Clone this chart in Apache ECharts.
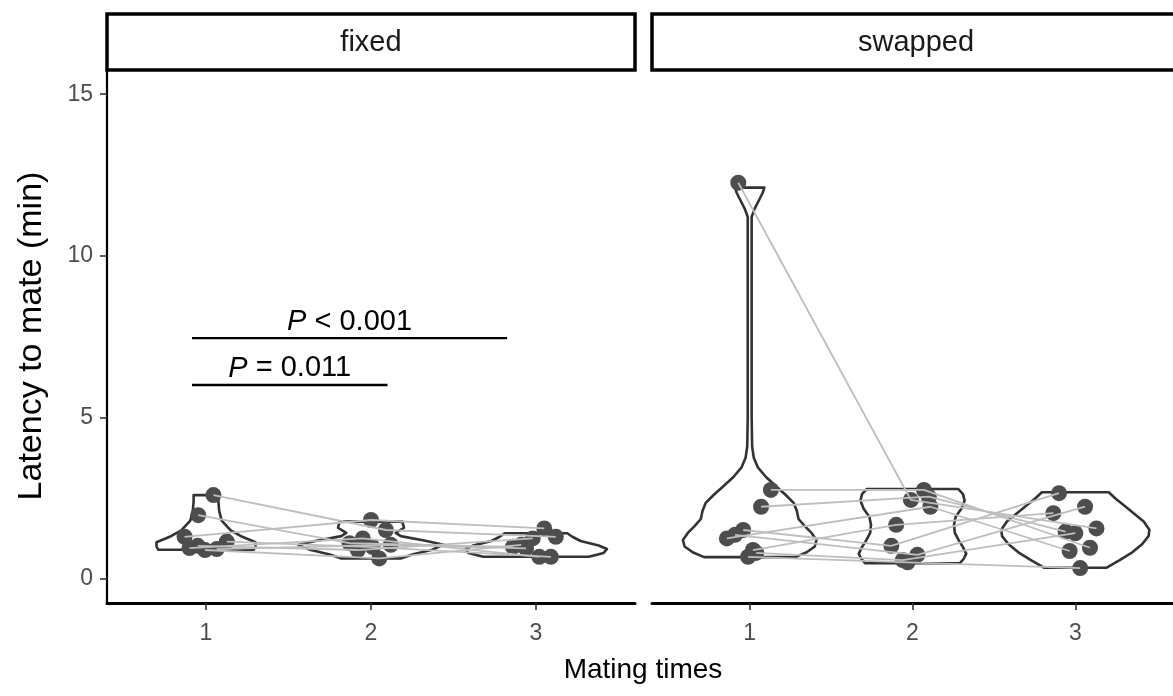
<!DOCTYPE html>
<html>
<head>
<meta charset="utf-8">
<script src="https://cdn.jsdelivr.net/npm/echarts@6/dist/echarts.min.js"></script>
<style>
  html, body { margin: 0; padding: 0; background: #ffffff; }
  #chart { width: 1173px; height: 696px; }
</style>
</head>
<body>
<div id="chart"></div>
<script>
// Mating times on the x axis, latency values in minutes
const categories = ['1', '2', '3'];
const yTicks = [0, 5, 10, 15];
const panelNames = ['fixed', 'swapped'];

// fixed: one entry per individual, latency at mating 1, 2, 3
const fixedTime1 = [2.59, 1.97, 1.30, 0.95, 0.89, 0.92, 1.15, 1.02];
const fixedTime2 = [1.51, 1.10, 1.82, 1.25, 0.63, 1.05, 0.98, 0.89];
const fixedTime3 = [1.30, 0.99, 1.56, 0.68, 1.05, 0.94, 0.68, 1.25];
const fixedJitter1 = [0.045, -0.047, -0.13, -0.10, -0.006, 0.065, 0.126, -0.05];
const fixedJitter2 = [0.09, -0.13, 0.0, -0.05, 0.05, 0.12, 0.01, -0.08];
const fixedJitter3 = [0.12, -0.14, 0.05, 0.02, -0.09, -0.06, 0.09, -0.02];

// swapped: one entry per individual, latency at mating 1, 2, 3
const swappedTime1 = [12.26, 2.75, 2.23, 1.51, 1.25, 0.89, 0.68, 1.36, 0.80];
const swappedTime2 = [2.44, 2.75, 2.54, 1.02, 2.23, 1.67, 0.51, 0.74, 0.58];
const swappedTime3 = [1.56, 0.96, 1.46, 2.65, 0.86, 2.03, 0.33, 2.23, 1.41];
const swappedJitter1 = [-0.07, 0.13, 0.07, -0.04, -0.14, 0.02, -0.01, -0.09, 0.04];
const swappedJitter2 = [-0.01, 0.07, 0.10, -0.13, 0.11, -0.10, -0.03, 0.03, -0.06];
const swappedJitter3 = [0.13, 0.09, -0.06, -0.10, -0.035, -0.135, 0.03, 0.06, 0.0];

// violin outlines: [latency, half width in category units]
const fixedViolin1 = [[0.90, 0.29], [1.0, 0.30], [1.13, 0.30], [1.3, 0.22], [1.5, 0.15], [1.8, 0.095], [2.1, 0.08], [2.4, 0.075], [2.59, 0.075]];
const fixedViolin2 = [[0.63, 0.18], [0.75, 0.25], [0.9, 0.37], [1.05, 0.44], [1.18, 0.33], [1.32, 0.18], [1.42, 0.15], [1.58, 0.20], [1.77, 0.19]];
const fixedViolin3 = [[0.68, 0.32], [0.8, 0.41], [0.92, 0.43], [1.03, 0.38], [1.17, 0.27], [1.3, 0.22], [1.41, 0.19]];
const swappedViolin1 = [[0.67, 0.28], [0.82, 0.35], [1.0, 0.40], [1.2, 0.41], [1.42, 0.38], [1.62, 0.34], [1.85, 0.30], [2.1, 0.29], [2.35, 0.27], [2.6, 0.22], [2.85, 0.165], [3.15, 0.10], [3.45, 0.05], [3.75, 0.025], [4.1, 0.015], [5.0, 0.012], [11.2, 0.012], [11.45, 0.03], [11.75, 0.06], [11.95, 0.08], [12.11, 0.09]];
const swappedViolin2 = [[0.48, 0.29], [0.62, 0.315], [0.78, 0.33], [0.98, 0.31], [1.18, 0.285], [1.42, 0.26], [1.67, 0.255], [1.92, 0.265], [2.17, 0.30], [2.42, 0.32], [2.62, 0.31], [2.78, 0.28]];
const swappedViolin3 = [[0.34, 0.19], [0.57, 0.27], [0.82, 0.35], [1.07, 0.41], [1.32, 0.45], [1.52, 0.455], [1.77, 0.42], [2.02, 0.36], [2.27, 0.30], [2.47, 0.25], [2.68, 0.205]];

// significance brackets in the fixed panel
const bracketStart = [0.915, 0.915];
const bracketEnd = [2.10, 2.825];
const bracketLevel = [6.0, 7.45];
const bracketOp = ['= 0.011', '< 0.001'];

const FONT = '"Liberation Sans", Arial, Helvetica, sans-serif';
const GRID_TOP = 70, GRID_H = 533, GRID_W = 528;

const panels = [
  { times: [fixedTime1, fixedTime2, fixedTime3], jitter: [fixedJitter1, fixedJitter2, fixedJitter3], violins: [fixedViolin1, fixedViolin2, fixedViolin3] },
  { times: [swappedTime1, swappedTime2, swappedTime3], jitter: [swappedJitter1, swappedJitter2, swappedJitter3], violins: [swappedViolin1, swappedViolin2, swappedViolin3] }
];

const series = [];
panels.forEach((p, pi) => {
  // violin outlines
  series.push({
    type: 'custom',
    xAxisIndex: pi, yAxisIndex: pi,
    silent: true, z: 1, clip: false,
    data: p.violins.map((v, i) => [i + 1]),
    renderItem: (params, api) => {
      const idx = params.dataIndex;
      const prof = p.violins[idx];
      const cx = idx + 1;
      const pts = [];
      prof.forEach(([v, w]) => pts.push(api.coord([cx + w, v])));
      for (let k = prof.length - 1; k >= 0; k--) {
        const [v, w] = prof[k];
        pts.push(api.coord([cx - w, v]));
      }
      return {
        type: 'polygon',
        shape: { points: pts, smooth: 0 },
        style: { fill: 'rgba(255,255,255,0)', stroke: '#333333', lineWidth: 2.6, lineJoin: 'round' }
      };
    }
  });
  // points
  const pts = [];
  p.times.forEach((arr, ti) => arr.forEach((v, k) => pts.push([ti + 1 + p.jitter[ti][k], v])));
  series.push({
    type: 'scatter',
    xAxisIndex: pi, yAxisIndex: pi,
    symbolSize: 16, z: 2, silent: true,
    itemStyle: { color: '#4D4D4D', opacity: 1 },
    data: pts
  });
  // individual trajectories
  p.times[0].forEach((_, k) => {
    series.push({
      type: 'line',
      xAxisIndex: pi, yAxisIndex: pi,
      symbol: 'none', z: 3, silent: true,
      lineStyle: { color: '#BEBEBE', width: 1.8 },
      data: [0, 1, 2].map(ti => [ti + 1 + p.jitter[ti][k], p.times[ti][k]])
    });
  });
});

// brackets with P values
series.push({
  type: 'custom',
  xAxisIndex: 0, yAxisIndex: 0,
  silent: true, z: 4, clip: false,
  data: bracketLevel.map((y, i) => [i]),
  renderItem: (params, api) => {
    const i = params.dataIndex;
    const a = api.coord([bracketStart[i], bracketLevel[i]]);
    const b = api.coord([bracketEnd[i], bracketLevel[i]]);
    return {
      type: 'group',
      children: [
        { type: 'line', shape: { x1: a[0], y1: a[1], x2: b[0], y2: b[1] }, style: { stroke: '#000', lineWidth: 2.4 } },
        {
          type: 'text',
          style: {
            x: (a[0] + b[0]) / 2, y: a[1] - 2,
            text: '{i|P} ' + bracketOp[i],
            rich: { i: { fontStyle: 'italic', fontSize: 29, fontFamily: FONT, fill: '#000' } },
            fontSize: 29, fontFamily: FONT, fill: '#000',
            align: 'center', verticalAlign: 'bottom',
            textAlign: 'center', textVerticalAlign: 'bottom'
          }
        }
      ]
    };
  }
});

const xAxisBase = (gi) => ({
  type: 'value', gridIndex: gi, min: 0.4, max: 3.6,
  axisLine: { show: true, onZero: false, lineStyle: { color: '#000', width: 3 } },
  axisTick: { show: true, customValues: [1, 2, 3], length: 7, lineStyle: { color: '#333', width: 1.6 } },
  axisLabel: { show: true, customValues: [1, 2, 3], formatter: v => categories[Math.round(v) - 1], fontSize: 23, color: '#4D4D4D', fontFamily: FONT, margin: 19 },
  splitLine: { show: false }
});

const option = {
  animation: false,
  backgroundColor: '#ffffff',
  grid: [
    { left: 107, top: GRID_TOP, width: GRID_W, height: GRID_H },
    { left: 652, top: GRID_TOP, width: GRID_W, height: GRID_H }
  ],
  xAxis: [xAxisBase(0), xAxisBase(1)],
  yAxis: [
    {
      type: 'value', gridIndex: 0, min: -0.75, max: 15.75,
      axisLine: { show: true, onZero: false, lineStyle: { color: '#000', width: 2.2 } },
      axisTick: { show: true, customValues: yTicks, length: 7, lineStyle: { color: '#333', width: 1.6 } },
      axisLabel: { show: true, customValues: yTicks, fontSize: 23, color: '#4D4D4D', fontFamily: FONT, margin: 14 },
      splitLine: { show: false }
    },
    {
      type: 'value', gridIndex: 1, min: -0.75, max: 15.75, show: false,
      splitLine: { show: false }
    }
  ],
  graphic: [
    { type: 'rect', shape: { x: 107, y: 14, width: 528, height: 56 }, style: { fill: '#fff', stroke: '#000', lineWidth: 3.5 } },
    { type: 'text', x: 371, y: 43, style: { text: panelNames[0], fontSize: 29, fontFamily: FONT, fill: '#1A1A1A', align: 'center', verticalAlign: 'middle', textAlign: 'center', textVerticalAlign: 'middle' } },
    { type: 'rect', shape: { x: 652, y: 14, width: 528, height: 56 }, style: { fill: '#fff', stroke: '#000', lineWidth: 3.5 } },
    { type: 'text', x: 916, y: 43, style: { text: panelNames[1], fontSize: 29, fontFamily: FONT, fill: '#1A1A1A', align: 'center', verticalAlign: 'middle', textAlign: 'center', textVerticalAlign: 'middle' } },
    { type: 'text', x: 643, y: 670, style: { text: 'Mating times', fontSize: 28, fontFamily: FONT, fill: '#000', align: 'center', verticalAlign: 'middle', textAlign: 'center', textVerticalAlign: 'middle' } },
    { type: 'text', x: 32, y: 336, rotation: Math.PI / 2, style: { text: 'Latency to mate (min)', fontSize: 34, fontFamily: FONT, fill: '#000', align: 'center', verticalAlign: 'middle', textAlign: 'center', textVerticalAlign: 'middle' } }
  ],
  series: series
};

const chart = echarts.init(document.getElementById('chart'), null, { renderer: 'canvas' });
chart.setOption(option);
</script>
</body>
</html>
